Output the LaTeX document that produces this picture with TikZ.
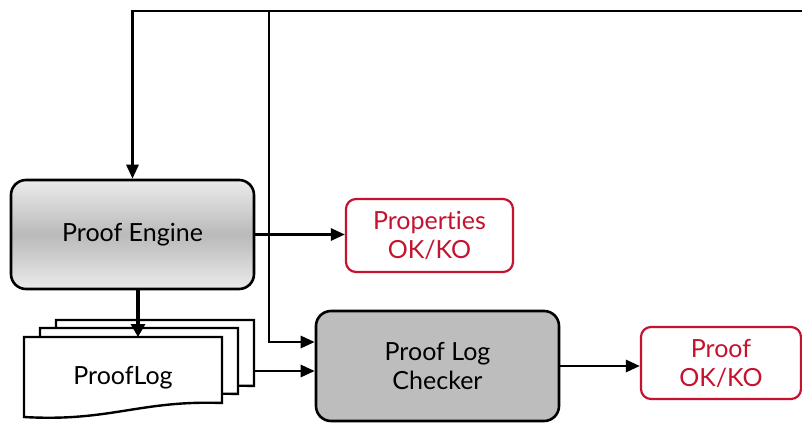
\documentclass[tikz,border=0pt]{standalone}
\usepackage{fontspec}
\setmainfont{Lato}[Ligatures={NoCommon}]
\usetikzlibrary{arrows.meta,calc}
\definecolor{okred}{HTML}{C4122F}
\definecolor{boxgray}{HTML}{BDBDBD}
\tikzset{
  flow/.style={line width=2.8pt,-{Triangle[length=14pt,width=12pt]}},
  heavyflow/.style={line width=4.5pt,-{Triangle[length=13pt,width=14pt]}},
  procbox/.style={draw,line width=2.6pt,rounded corners=15pt,align=center,font=\fontsize{25}{29}\selectfont},
  resultbox/.style={draw=okred,text=okred,line width=2.2pt,rounded corners=10pt,align=center,font=\fontsize{25}{29}\selectfont},
  docpage/.style={draw,line width=2.4pt,fill=white},
}
\begin{document}
\begin{tikzpicture}[x=1pt,y=-1pt]
\useasboundingbox (0,0) rectangle (802,423);

% processing blocks
\node[procbox,minimum width=243pt,minimum height=109pt,
      top color=white!92!black,bottom color=white!92!black,middle color=black!27]
      (engine) at (132.5,234.5) {Proof Engine};
\node[procbox,fill=boxgray,minimum width=243pt,minimum height=110pt]
      (checker) at (437.5,366) {Proof Log\\Checker};

% verdicts
\node[resultbox,minimum width=167pt,minimum height=73pt] (props) at (429.5,235.5) {Properties\\OK/KO};
\node[resultbox,minimum width=160pt,minimum height=72pt] (proofok) at (721,363) {Proof\\OK/KO};

% stacked proof log pages (back to front)
\foreach \dx/\dy in {32/-17,16/-9,0/0}{
  \draw[docpage,shift={(\dx,\dy)}]
    (24,337) -- (222,337) -- (222,403)
    .. controls (140,400) and (110,422) .. (24,417) -- cycle;
}
\node[font=\fontsize{25}{29}\selectfont] (log) at (123,378) {ProofLog};
\coordinate (logtop) at (138,337);
\coordinate (logright) at (254,371);

% feedback bus along the top
\coordinate (busend) at (804,11);
\coordinate (split) at (269,11);
\draw[flow] (busend) -| (engine.north);
\draw[flow] (split) |- ($(checker.west)+(0,-24)$);

% data flow
\draw[flow] (engine.east) -- (engine.east -| props.west);
\draw[heavyflow] (engine.south -| logtop) -- (logtop);
\draw[flow] (logright) -- (logright -| checker.west);
\draw[flow] (checker.east) -- (checker.east -| proofok.west);
\end{tikzpicture}
\end{document}
